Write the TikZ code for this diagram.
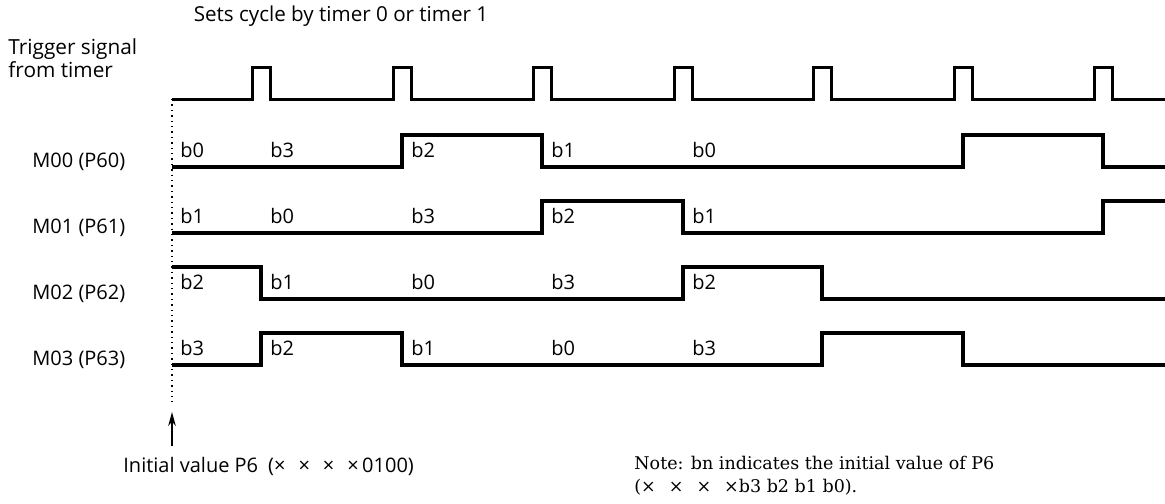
\documentclass[tikz,border=0pt]{standalone}
\usepackage{fontspec}
\newfontfamily\labelfont{Open Sans}
\newfontfamily\notefont{DejaVu Serif}
\usetikzlibrary{arrows.meta,positioning}
\newcommand{\xx}{×\hspace{6.5pt}}

\begin{document}
\begin{tikzpicture}[
  x=0.5pt, y=-0.5pt,
  every node/.style={font=\labelfont\fontsize{10}{12}\selectfont, inner sep=0pt},
  rowname/.style={anchor=west},
  bit/.style={anchor=west},
  note/.style={font=\notefont\fontsize{8.75}{11.3}\selectfont, align=left, anchor=north west},
  wave/.style={line width=1.6pt},
  trig/.style={line width=1.5pt},
  guide/.style={dotted, line width=0.7pt},
  arr/.style={-{Stealth[length=7pt,width=3.8pt]}, line width=1pt},
]
\useasboundingbox (0,0) rectangle (1165,503);

%% Title and signal names
\node (title) at (341,16) {\fontsize{10.3}{12}\selectfont Sets cycle by timer 0 or timer 1};
\node[anchor=north west, align=left, font=\labelfont\fontsize{10.4}{7.2}\selectfont] (trigname) at (8,38)
  {Trigger signal\\from timer};
\node[rowname] (m00) at (32,162) {M00 (P60)};
\node[rowname] (m01) at (32,228) {M01 (P61)};
\node[rowname] (m02) at (32,294) {M02 (P62)};
\node[rowname] (m03) at (32,360) {M03 (P63)};

%% Trigger pulses
\coordinate (t0) at (172,99);
\draw[trig] (t0) foreach \t in {261,402,542,683,822,963,1103} {
  -- ({\t-9},99) -- ({\t-9},67) -- ({\t+9},67) -- ({\t+9},99) } -- (1165,99);

%% Port outputs
\draw[wave] (172,167) -- (402,167) -- (402,135) -- (542,135) -- (542,167) -- (963,167)
  -- (963,135) -- (1103,135) -- (1103,167) -- (1165,167);
\draw[wave] (172,233) -- (542,233) -- (542,201) -- (683,201) -- (683,233) -- (1103,233)
  -- (1103,201) -- (1165,201);
\draw[wave] (172,267) -- (261,267) -- (261,299) -- (683,299) -- (683,267) -- (822,267)
  -- (822,299) -- (1165,299);
\draw[wave] (172,365) -- (261,365) -- (261,333) -- (402,333) -- (402,365) -- (822,365)
  -- (822,333) -- (963,333) -- (963,365) -- (1165,365);

%% Bit labels
\foreach \x/\b [count=\i] in {180/b0,270/b3,411/b2,551/b1,692/b0}
  \node[bit] (b00-\i) at (\x,150) {\b};
\foreach \x/\b [count=\i] in {180/b1,270/b0,411/b3,551/b2,692/b1}
  \node[bit] (b01-\i) at (\x,216) {\b};
\foreach \x/\b [count=\i] in {180/b2,270/b1,411/b0,551/b3,692/b2}
  \node[bit] (b02-\i) at (\x,282) {\b};
\foreach \x/\b [count=\i] in {180/b3,270/b2,411/b1,551/b0,692/b3}
  \node[bit] (b03-\i) at (\x,348) {\b};

%% Initial value marker
\coordinate (guideend) at (172,402);
\coordinate (arrtip) at (172,412);
\coordinate (arrtail) at (172,446);
\draw[guide] (t0) -- (guideend);
\draw[arr] (arrtail) -- (arrtip);
\node[anchor=west] (init) at (123,466) {Initial value P6\hspace{5pt}(\xx\xx\xx×\,0100)};

%% Note
\node[note] (note) at (634,456)
  {Note: bn indicates the initial value of P6\\(\xx\xx\xx×b3 b2 b1 b0).};

\end{tikzpicture}
\end{document}
